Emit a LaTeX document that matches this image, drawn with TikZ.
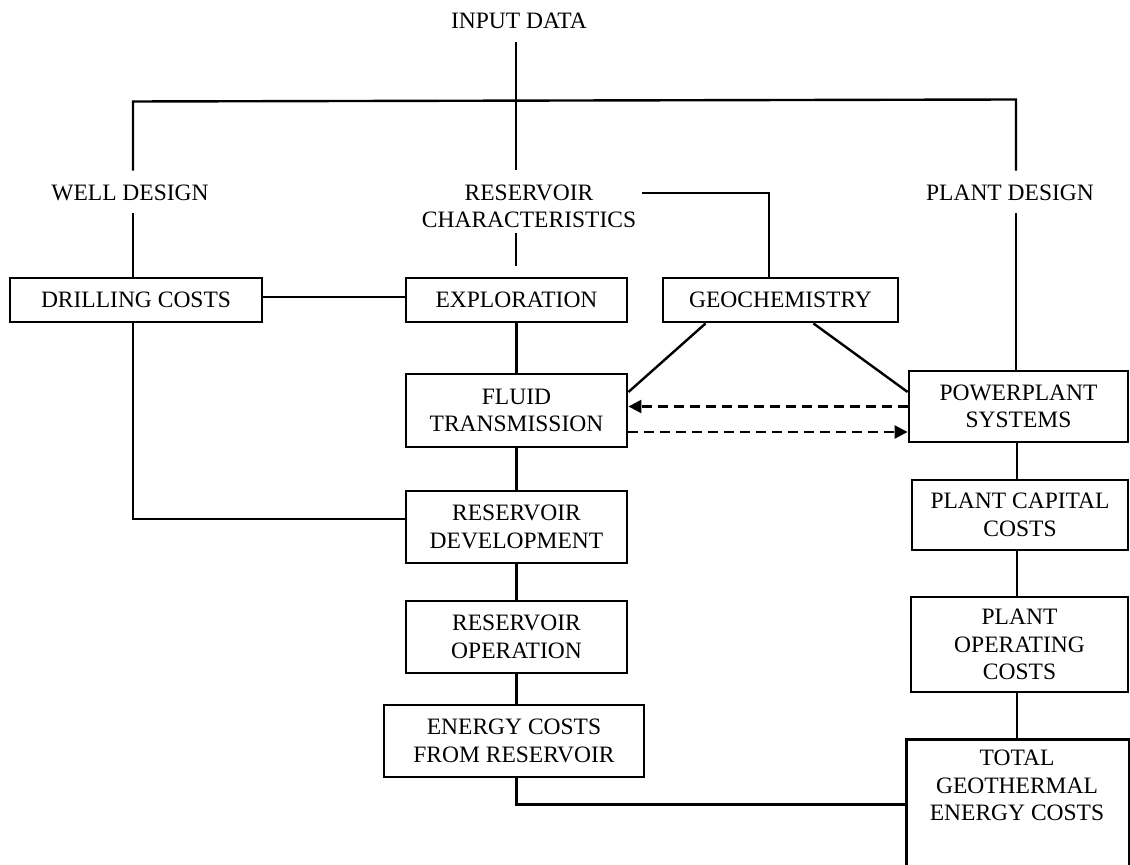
\documentclass[tikz,border=0pt]{standalone}
\usepackage{fontspec}
\setmainfont{Liberation Serif}
\usetikzlibrary{arrows.meta}
\newcommand\dfont{\fontsize{11.75pt}{13.75pt}\selectfont}
\begin{document}
\begin{tikzpicture}[x=0.5pt,y=-0.5pt,
  box/.style={draw,line width=1.4pt,inner sep=0pt,align=center,font=\dfont},
  lbl/.style={inner sep=0pt,align=center,font=\dfont},
  thick line/.style={line width=1.2pt},
  thin line/.style={line width=0.7pt},
  dasharrow/.style={line width=1.2pt,dash pattern=on 5pt off 3pt,-{Triangle[length=6.5pt,width=6.5pt]}}]
\clip (0,0) rectangle (1130,865);
\useasboundingbox (0,0) rectangle (1130,865);
% labels
\node[lbl] (input) at (519,21) {INPUT DATA};
\node[lbl] (well) at (130,193) {WELL DESIGN};
\node[lbl] (resch) at (529,206.5) {RESERVOIR\\CHARACTERISTICS};
\node[lbl] (plant) at (1010,193) {PLANT DESIGN};
% boxes
\node[box,minimum width=126pt,minimum height=22pt] (drill) at (136,300) {DRILLING COSTS};
\node[box,minimum width=110.5pt,minimum height=22pt] (explor) at (516.5,300) {EXPLORATION};
\node[box,minimum width=117.5pt,minimum height=22pt] (geo) at (780.5,300) {GEOCHEMISTRY};
\node[box,minimum width=110.5pt,minimum height=36.5pt] (fluid) at (516.5,410.5) {FLUID\\TRANSMISSION};
\node[box,minimum width=110.5pt,minimum height=36pt] (resdev) at (516.5,527) {RESERVOIR\\DEVELOPMENT};
\node[box,minimum width=110.5pt,minimum height=36pt] (resop) at (516.5,637) {RESERVOIR\\OPERATION};
\node[box,minimum width=130pt,minimum height=36pt] (energy) at (514,741) {ENERGY COSTS\\FROM RESERVOIR};
\node[box,minimum width=109.5pt,minimum height=35.5pt] (power) at (1018.5,406.5) {POWERPLANT\\SYSTEMS};
\node[box,minimum width=108pt,minimum height=35pt] (capital) at (1020,515) {PLANT CAPITAL\\COSTS};
\node[box,minimum width=108.5pt,minimum height=47.5pt] (operating) at (1019.5,644.5) {PLANT\\OPERATING\\COSTS};
\node[box,minimum width=111.5pt,minimum height=65pt,anchor=north west] (total) at (905,738) {};
\node[lbl] (totaltxt) at (1017,785.5) {TOTAL\\GEOTHERMAL\\ENERGY COSTS};
% junctions
\coordinate (hub) at (516,100.5);
\coordinate (tl) at (133,101.5);
\coordinate (tr) at (1016,99.5);
\coordinate (rx) at (1017,0);
% top tree
\draw[thick line,shorten <=6.6pt,shorten >=7pt] (input.south -| hub) -- (resch.north -| hub);
\draw[thick line,shorten <=7pt,shorten >=7pt] (well.north -| tl) -- (tl) -- (tr) -- (plant.north -| tr);
% label connectors
\draw[thin line,shorten <=5.6pt] (well.south -| tl) -- (drill.north -| tl);
\draw[thin line,shorten <=2.1pt,shorten >=5.5pt] (resch.south -| hub) -- (explor.north -| hub);
\draw[thin line] ([shift={(6,-13.5)}]resch.east) -| ([shift={(-11.5,0)}]geo.north);
\draw[thin line,shorten <=6pt] (plant.south -| tr) -- (power.north -| tr);
% left column
\draw[thin line] ([yshift=1.5pt]drill.east) -- ([yshift=1.5pt]explor.west);
\draw[thick line] (explor.south) -- (fluid.north);
\draw[thick line] (fluid.south) -- (resdev.north);
\draw[thick line] (resdev.south) -- (resop.north);
\draw[thick line] (resop.south) -- (resop.south |- energy.north);
\draw[thick line] ([xshift=-1.5pt]drill.south) |- ([yshift=4pt]resdev.west);
\draw[thick line] (energy.south -| resop.south) |- (total.west);
% geochemistry
\draw[thick line] ([shift={(44,0)}]geo.south west) -- ([shift={(0,-18.5)}]fluid.east);
\draw[thick line] ([shift={(-86,0)}]geo.south east) -- ([shift={(0,-14.5)}]power.west);
% dashed arrows
\draw[dasharrow] (power.west) -- (power.west -| fluid.east);
\coordinate (d2) at ([shift={(0,21.5)}]fluid.east);
\draw[dasharrow] (d2) -- (d2 -| power.west);
% right column
\draw[thin line] (power.south -| rx) -- (capital.north -| rx);
\draw[thick line] (capital.south -| rx) -- (operating.north -| rx);
\draw[thick line] (operating.south -| rx) -- (total.north -| rx);
\end{tikzpicture}
\end{document}
